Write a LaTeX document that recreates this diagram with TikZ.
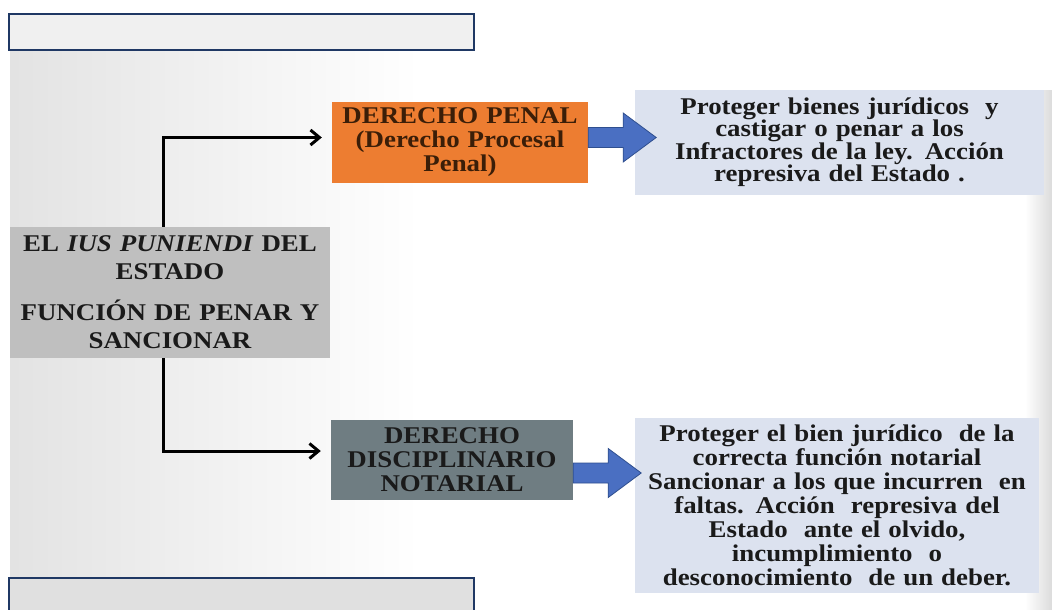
\documentclass[tikz,border=0pt]{standalone}
\usepackage{fontspec}
\setmainfont{Liberation Serif}[FakeStretch=1.12]
\usetikzlibrary{arrows.meta}

\definecolor{naranja}{HTML}{ED7D31}
\definecolor{grismedio}{HTML}{BFBFBF}
\definecolor{grisoscuro}{HTML}{6F7D82}
\definecolor{lavanda}{HTML}{DCE2EF}
\definecolor{azul}{HTML}{4A6FC2}
\definecolor{azulborde}{HTML}{2F4F8F}
\definecolor{marino}{HTML}{1F3864}
\definecolor{textomarron}{HTML}{3B1E08}
\definecolor{textonegro}{HTML}{1A1A1A}

\tikzset{
  flecha/.pic={
    \draw[fill=azul, draw=azulborde, line width=0.8pt]
      (0,-10) -- (35,-10) -- (35,-24.5) -- (68,0) -- (35,24.5) -- (35,10) -- (0,10) -- cycle;
  }
}

\begin{document}
\begin{tikzpicture}[x=1pt, y=-1pt, >={Straight Barb[length=9pt,width=15pt]},
    caja/.style={inner sep=0pt, align=center, text=textonegro,
      font=\fontsize{24}{24}\selectfont\bfseries},
    conector/.style={->, line width=3pt, shorten >=10pt},
    marco/.style={draw=marino, line width=1.5pt}]
  \useasboundingbox (0,0) rectangle (1052,610);

  % Fondo
  \fill[white] (0,0) rectangle (1052,610);
  \shade[left color=black!11, right color=white] (10,52) rectangle (420,610);
  \shade[left color=white, right color=black!14] (1025,90) rectangle (1052,610);

  % Marcos de titulo
  \fill[black!6] (9,14) rectangle (474,50);
  \draw[marco] (9,14) rectangle (474,50);
  \fill[black!12] (9,578) rectangle (474,612);
  \draw[marco] (9,612) -- (9,578) -- (474,578) -- (474,612);

  % Cajas
  \node[caja, fill=grismedio, minimum width=320pt, minimum height=131pt, text width=316pt,
        font=\fontsize{24}{28}\selectfont\bfseries] (ius) at (170,292.5)
    {EL \textit{IUS PUNIENDI} DEL\\ESTADO\\[13pt]FUNCIÓN DE PENAR Y\\SANCIONAR};
  \node[caja, fill=naranja, text=textomarron, minimum width=256pt, minimum height=81pt,
        text width=252pt] (penal) at (460,142.5)
    {DERECHO PENAL\\(Derecho Procesal\\Penal)};
  \node[caja, fill=grisoscuro, minimum width=242pt, minimum height=80pt,
        text width=240pt] (disc) at (452,460)
    {DERECHO\\DISCIPLINARIO\\NOTARIAL};
  \node[caja, fill=lavanda, minimum width=409pt, minimum height=105pt, text width=405pt,
        font=\fontsize{24}{22}\selectfont\bfseries] (fin1) at (839.5,142.5)
    {Proteger bienes jurídicos \ y\\castigar o penar a los\\Infractores de la ley. Acción\\represiva del Estado .};
  \node[caja, fill=lavanda, minimum width=404pt, minimum height=175pt,
        text width=400pt] (fin2) at (837,505.5)
    {Proteger el bien jurídico \ de la\\correcta función notarial\\Sancionar a los que incurren \ en\\faltas. Acción \ represiva del\\Estado \ ante el olvido,\\incumplimiento \ o\\desconocimiento \ de un deber.};

  % Flechas de bloque
  \pic at ([yshift=5pt]penal.east) {flecha};
  \pic at ([yshift=-13pt]disc.east) {flecha};

  % Conectores
  \draw[conector] ([xshift=-7pt]ius.north) |- ([yshift=5pt]penal.west);
  \draw[conector] ([xshift=-7pt]ius.south) |- ([yshift=9pt]disc.west);
\end{tikzpicture}
\end{document}
